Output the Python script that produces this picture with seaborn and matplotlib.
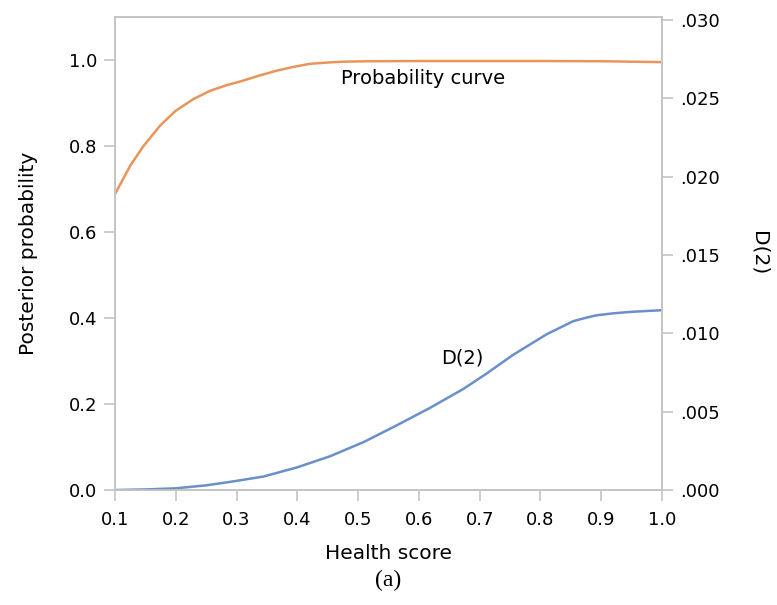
import seaborn as sns
import matplotlib.pyplot as plt
import pandas as pd

# Values
prob_score = [0.1, 0.125, 0.147, 0.174, 0.2, 0.229, 0.256, 0.283, 0.311, 0.338, 0.366,
              0.394, 0.421, 0.45, 0.476, 0.52, 0.6, 0.7, 0.8, 0.9, 0.95, 1.0]
posterior_prob = [0.688, 0.754, 0.800, 0.847, 0.882, 0.909, 0.928, 0.941, 0.952, 0.964, 0.975,
                  0.984, 0.991, 0.994, 0.996, 0.997, 0.9975, 0.9975, 0.9975, 0.997, 0.996, 0.995]

d2_score = [0.1, 0.15, 0.2, 0.25, 0.289, 0.344, 0.399, 0.454, 0.509, 0.563, 0.618, 0.673,
            0.71, 0.755, 0.81, 0.854, 0.875, 0.893, 0.92, 0.947, 0.975, 1.0]
d2 = [0.0, 0.00004, 0.00011, 0.0003, 0.00052, 0.00086, 0.00144, 0.00216, 0.00306, 0.00412,
      0.00524, 0.00645, 0.0074, 0.00863, 0.00994, 0.01078, 0.011, 0.01116, 0.01128, 0.01137,
      0.01143, 0.01148]

x_ticks = [0.1, 0.2, 0.3, 0.4, 0.5, 0.6, 0.7, 0.8, 0.9, 1.0]
left_ticks = [0.0, 0.2, 0.4, 0.6, 0.8, 1.0]
right_ticks = [0.0, 0.005, 0.010, 0.015, 0.020, 0.025, 0.030]
right_labels = [".000", ".005", ".010", ".015", ".020", ".025", ".030"]

prob_df = pd.DataFrame({"score": prob_score, "prob": posterior_prob})
d2_df = pd.DataFrame({"score": d2_score, "d2": d2})

sns.set_style("white")
plt.rcParams["font.family"] = ["DejaVu Sans"]
plt.rcParams["text.color"] = "black"
plt.rcParams["axes.labelcolor"] = "black"

grey = "#C4C4C4"
orange = "#E9955A"
blue = "#6A8FCA"

fig = plt.figure(figsize=(7.77, 6.05), dpi=100)
ax = fig.add_axes([0.148, 0.190, 0.704, 0.782])
ax2 = ax.twinx()

sns.lineplot(data=prob_df, x="score", y="prob", ax=ax, color=orange, linewidth=1.8)
sns.lineplot(data=d2_df, x="score", y="d2", ax=ax2, color=blue, linewidth=1.8)

ax.set_xlim(0.1, 1.0)
ax.set_ylim(0, 1.1)
ax2.set_ylim(0, 0.0302)

ax.set_xticks(x_ticks)
ax.set_xticklabels([f"{v:.1f}" for v in x_ticks])
ax.set_yticks(left_ticks)
ax.set_yticklabels([f"{v:.1f}" for v in left_ticks])
ax2.set_yticks(right_ticks)
ax2.set_yticklabels(right_labels)

for a in (ax, ax2):
    for s in a.spines.values():
        s.set_color(grey)
        s.set_linewidth(1.2)
    a.tick_params(axis="both", colors=grey, labelcolor="black", labelsize=13,
                  length=8, width=1.2, direction="out", pad=5)
ax.tick_params(axis="x", bottom=True, pad=7)
ax.tick_params(axis="y", left=True)
ax2.tick_params(axis="y", right=True)

ax.set_xlabel("Health score", fontsize=14.5, labelpad=11)
ax.set_ylabel("Posterior probability", fontsize=14.5, labelpad=22)
ax2.set_ylabel("D(2)", fontsize=14.5, rotation=270, labelpad=35)

ax.text(0.607, 0.956, "Probability curve", fontsize=14, ha="center", va="center")
ax.text(0.671, 0.308, "D(2)", fontsize=14, ha="center", va="center")

fig.text(0.5, 0.041, "(a)", fontsize=17, ha="center", va="center",
         family=["Liberation Serif", "DejaVu Serif"])

fig.savefig("out.png", dpi=100)
